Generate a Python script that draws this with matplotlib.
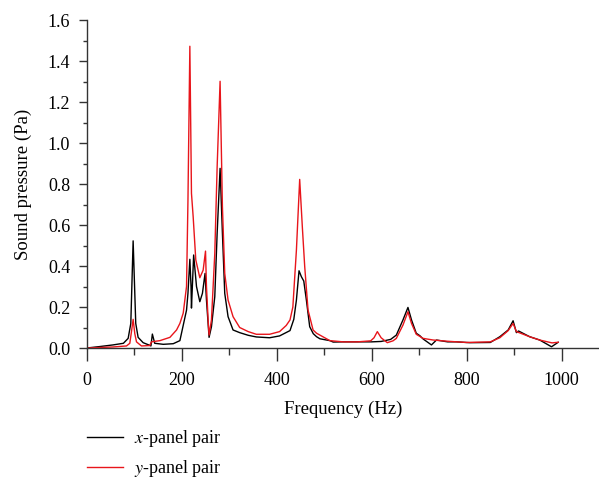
import numpy as np
import matplotlib
matplotlib.use("Agg")
import matplotlib.pyplot as plt
from matplotlib.ticker import MultipleLocator

# x-panel pair (black)
freq_x = [0, 27, 55, 77, 87, 92.6, 97.5, 103, 108, 118.6, 132.6, 135, 138, 143, 161, 182,
          196, 210, 213, 217, 219.5, 220.4, 225, 231, 238, 243.5, 249, 252, 257.5, 262.5,
          269.5, 274.5, 280.7, 285.6, 290.5, 297.5, 308, 322, 340, 357, 385, 406, 428, 436,
          441.5, 447, 452, 457, 462.5, 469.5, 477, 484, 491, 512, 519, 540, 570, 600, 620,
          640, 652, 666, 676.5, 684, 694, 701.6, 708.5, 726, 736.6, 760, 778, 807, 850,
          870, 887.7, 898, 905, 909.5, 933, 954, 979, 993]
press_x = [0, 0.007, 0.015, 0.023, 0.047, 0.12, 0.523, 0.12, 0.052, 0.026, 0.013, 0.01,
           0.068, 0.023, 0.018, 0.021, 0.036, 0.185, 0.267, 0.433, 0.30, 0.195, 0.454, 0.30,
           0.226, 0.267, 0.364, 0.234, 0.052, 0.104, 0.25, 0.56, 0.877, 0.56, 0.267, 0.153,
           0.088, 0.075, 0.062, 0.054, 0.05, 0.059, 0.085, 0.14, 0.234, 0.377, 0.348, 0.327,
           0.234, 0.104, 0.07, 0.055, 0.045, 0.036, 0.029, 0.03, 0.03, 0.03, 0.032, 0.042,
           0.063, 0.137, 0.198, 0.137, 0.072, 0.06, 0.044, 0.015, 0.039, 0.03, 0.03, 0.026,
           0.027, 0.055, 0.088, 0.133, 0.075, 0.083, 0.055, 0.039, 0.006, 0.028]

# y-panel pair (red)
freq_y = [0, 55, 83.5, 90.5, 94, 97.5, 101, 104.6, 115, 132.6, 136, 154, 175, 189, 196,
          203, 210, 213, 217, 220.4, 224, 229.5, 238, 245, 250, 252, 255.5, 257.5, 262.5,
          269.5, 274.5, 280.7, 285.6, 290.5, 297.5, 308, 322, 340, 357, 385, 406, 420, 428,
          434, 441.5, 448.4, 454, 459, 466, 476.6, 484, 491, 512, 540, 570, 598, 605, 612,
          620, 633, 645, 652, 666, 676.5, 684, 694, 708.5, 729.5, 760, 800, 850, 870, 887.7,
          898, 905, 933, 954, 980, 993]
press_y = [0, 0.005, 0.01, 0.023, 0.08, 0.14, 0.07, 0.03, 0.01, 0.012, 0.03, 0.036, 0.052,
           0.088, 0.12, 0.17, 0.30, 0.72, 1.473, 0.755, 0.64, 0.43, 0.343, 0.38, 0.473, 0.30,
           0.137, 0.063, 0.137, 0.46, 0.885, 1.302, 0.69, 0.364, 0.234, 0.153, 0.1, 0.08,
           0.067, 0.067, 0.08, 0.11, 0.137, 0.2, 0.478, 0.823, 0.59, 0.397, 0.185, 0.088,
           0.072, 0.063, 0.036, 0.03, 0.03, 0.035, 0.05, 0.08, 0.05, 0.026, 0.035, 0.047,
           0.112, 0.177, 0.12, 0.067, 0.047, 0.039, 0.033, 0.027, 0.03, 0.05, 0.085, 0.12,
           0.08, 0.055, 0.039, 0.025, 0.028]

plt.rcParams['font.family'] = ['Liberation Serif', 'DejaVu Serif']
plt.rcParams['mathtext.fontset'] = 'stix'

fig = plt.figure(figsize=(5.99, 4.82), dpi=100)
ax = fig.add_axes([0.145, 0.278, 0.855, 0.680])

ax.plot(freq_x, press_x, color='black', lw=1.0, label='$x$-panel pair')
ax.plot(freq_y, press_y, color='#e8151b', lw=1.0, label='$y$-panel pair')

ax.set_xlim(0, 1079)
ax.set_ylim(0, 1.6)
ax.xaxis.set_major_locator(MultipleLocator(200))
ax.xaxis.set_minor_locator(MultipleLocator(100))
ax.yaxis.set_major_locator(MultipleLocator(0.2))
ax.yaxis.set_minor_locator(MultipleLocator(0.1))
ax.yaxis.set_major_formatter(plt.FuncFormatter(lambda v, p: f"{v:.1f}"))

for s in ['top', 'right']:
    ax.spines[s].set_visible(False)
for s in ['left', 'bottom']:
    ax.spines[s].set_color('#333333')
    ax.spines[s].set_linewidth(1.0)

ax.tick_params(axis='x', which='major', direction='out', length=9, width=1,
               color='#333333', labelsize=13, pad=8)
ax.tick_params(axis='x', which='minor', direction='out', length=5, width=1, color='#333333')
ax.tick_params(axis='y', which='major', direction='out', length=6, width=1,
               color='#333333', labelsize=13, pad=6)
ax.tick_params(axis='y', which='minor', direction='out', length=3, width=1, color='#333333')

ax.set_xlabel('Frequency (Hz)', fontsize=13.5, labelpad=9)
ax.set_ylabel('Sound pressure (Pa)', fontsize=13.5, labelpad=11)

ax.legend(loc='upper left', bbox_to_anchor=(0.145, 0.112), bbox_transform=fig.transFigure,
          frameon=False, fontsize=13, handlelength=2.0, handletextpad=0.6,
          labelspacing=0.5, borderpad=0, borderaxespad=0)

fig.savefig('out.png', dpi=100)
